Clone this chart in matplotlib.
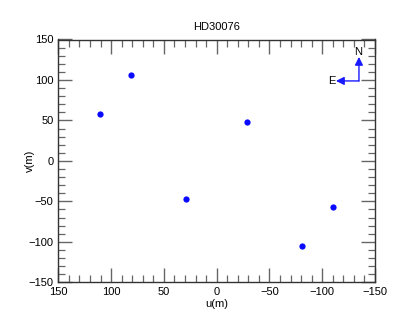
import matplotlib.pyplot as plt
from matplotlib.ticker import MultipleLocator

plt.rcParams['font.family'] = ['Liberation Sans', 'DejaVu Sans']
plt.rcParams['font.size'] = 8

u = [110.5, 81.0, -28.7, 28.8, -81.0, -110.0]
v = [58.0, 106.0, 48.0, -47.0, -105.0, -57.0]
title = 'HD30076'

fig = plt.figure(figsize=(4.07, 3.26), dpi=100)
ax = fig.add_axes([58.3 / 407, 1 - 282.3 / 326, 316.7 / 407, 242.8 / 326])

ax.plot(u, v, 'o', color='#0a0aff', markersize=4.5, markeredgewidth=0)

ax.set_xlim(150, -150)
ax.set_ylim(-150, 150)
ax.xaxis.set_major_locator(MultipleLocator(50))
ax.xaxis.set_minor_locator(MultipleLocator(10))
ax.yaxis.set_major_locator(MultipleLocator(50))
ax.yaxis.set_minor_locator(MultipleLocator(10))
ax.tick_params(which='both', direction='in', top=True, right=True, color='#666666')
ax.tick_params(which='major', length=10, width=1.0)
ax.tick_params(which='minor', length=5, width=0.9)
for s in ax.spines.values():
    s.set_linewidth(1.0)
    s.set_color('#333333')

ax.set_xlabel('u(m)', labelpad=1)
ax.set_ylabel('v(m)')
ax.yaxis.set_label_coords(-0.075, 0.5)
ax.set_title(title, fontsize=8, pad=7)

# compass
ox, oy = -134.8, 98.8
arrow = dict(arrowstyle='-|>,head_length=0.6,head_width=0.3', color='#1a1aff', lw=1.0,
             shrinkA=0, shrinkB=0)
ax.annotate('', xy=(ox, 128.5), xytext=(ox, oy), arrowprops=arrow)
ax.annotate('', xy=(-113, oy), xytext=(ox, oy), arrowprops=arrow)
ax.text(ox + 1, 134, 'N', ha='center', va='center')
ax.text(-109, oy, 'E', ha='center', va='center')

fig.savefig('out.png', dpi=100)
